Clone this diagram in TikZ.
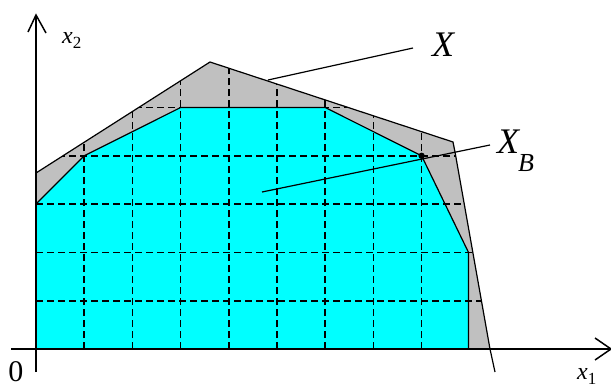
\documentclass[tikz,border=0pt]{standalone}
\usepackage{fontspec}
\setmainfont{Liberation Serif}
\definecolor{cyanfill}{RGB}{0,255,255}
\definecolor{grayfill}{RGB}{192,192,192}
\begin{document}
\begin{tikzpicture}[x=1pt,y=-1pt,
  edge/.style={black,line width=1.2pt},
  gridline/.style={black,line width=1.6pt,dash pattern=on 7pt off 4pt},
  axis/.style={black,line width=1.5pt},
  lbl/.style={inner sep=0pt,font=\itshape}]
\useasboundingbox (0,0) rectangle (611,389);
% key points
\coordinate (O) at (36,349);
\coordinate (c1) at (36,204);
\coordinate (c2) at (84.2,155.8);
\coordinate (c3) at (180.6,107.5);
\coordinate (c4) at (325.2,107.5);
\coordinate (xb) at (421.6,155.8);
\coordinate (c6) at (468.5,252.4);
\coordinate (c7) at (468.5,349);
\coordinate (g1) at (36,173);
\coordinate (g2) at (210,62);
\coordinate (g3) at (453,142);
\coordinate (g4) at (455,152);
\coordinate (g5) at (490,349);
\coordinate (g6) at (495,372);
% fills
\fill[grayfill] (O) -- (g1) -- (g2) -- (g3) -- (g4) -- (g5) -- cycle;
\fill[cyanfill] (O) -- (c1) -- (c2) -- (c3) -- (c4) -- (xb) -- (c6) -- (c7) -- cycle;
% grid clipped to X
\begin{scope}
\clip (O) -- (g1) -- (g2) -- (g3) -- (g4) -- (g5) -- cycle;
\foreach \k in {1,...,8} {
  \draw[gridline] (36+48.2*\k,349) -- (36+48.2*\k,40);
}
\foreach \k in {1,...,5} {
  \draw[gridline] (36,349-48.3*\k) -- (500,349-48.3*\k);
}
\end{scope}
% outlines
\draw[edge] (c1) -- (c2) -- (c3) -- (c4) -- (xb) -- (c6) -- (c7);
\draw[edge] (g1) -- (g2) -- (g3) -- (g4) -- (g5) -- (g6);
% axes
\coordinate (xa0) at (11,349);
\coordinate (xa1) at (611,349);
\coordinate (ya0) at (36,372);
\coordinate (ya1) at (36,15);
\draw[axis] (xa0) -- (xa1);
\draw[axis] (ya0) -- (ya1);
\coordinate (xh1) at (595,338);
\coordinate (xh2) at (595,360);
\coordinate (yh1) at (28,32);
\coordinate (yh2) at (46,33);
\draw[axis] (xh1) -- (xa1) -- (xh2);
\draw[axis] (yh1) -- (ya1) -- (yh2);
% leaders
\coordinate (lx1) at (268,80);
\coordinate (lx2) at (413,48);
\draw[edge] (lx1) -- (lx2);
\coordinate (lb1) at (262,192);
\coordinate (lb2) at (490,145);
\draw[edge] (lb1) -- (lb2);
% point X_B
\fill[black] (xb) circle (3.2pt);
% labels
\node[lbl,font=\itshape\fontsize{36}{36}\selectfont] (Xl) at (443,45) {X};
\node[lbl,font=\itshape\fontsize{36}{36}\selectfont,anchor=west] (XBl) at (497,151) {X\kern-1pt\raisebox{-18pt}{\fontsize{26}{26}\selectfont B}};
\node[lbl,font=\itshape\fontsize{24}{24}\selectfont,anchor=west] (x2l) at (62,40) {x\raisebox{-5pt}{\fontsize{17}{17}\selectfont\upshape 2}};
\node[lbl,font=\itshape\fontsize{24}{24}\selectfont,anchor=west] (x1l) at (577,376) {x\raisebox{-5pt}{\fontsize{17}{17}\selectfont\upshape 1}};
\node[inner sep=0pt,font=\fontsize{30}{30}\selectfont] (zero) at (16,372) {0};
\end{tikzpicture}
\end{document}
